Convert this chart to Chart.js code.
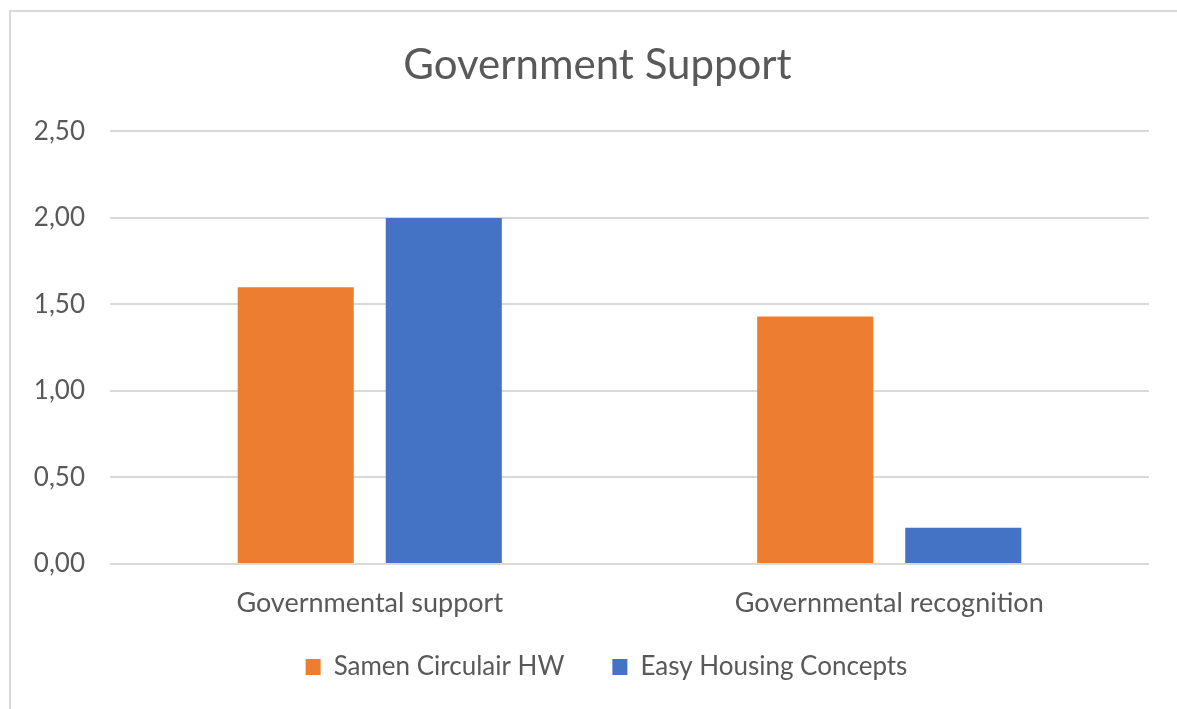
<!DOCTYPE html>
<html>
<head>
<meta charset="utf-8">
<script src="https://cdn.jsdelivr.net/npm/chart.js@4/dist/chart.umd.min.js"></script>
<style>
  html, body { margin: 0; padding: 0; background: #fff; overflow: hidden; }
  #wrap { position: absolute; left: 0; top: 0; width: 1177px; height: 709px; overflow: hidden; }
  #frame { position: absolute; left: 9px; top: 10px; width: 1200px; height: 740px; border: 2px solid #d9d9d9; }
  canvas { position: absolute; left: 0; top: 0; }
</style>
</head>
<body>
<div id="wrap">
  <div id="frame"></div>
  <canvas id="chart" width="1177" height="709"></canvas>
</div>
<script>
// Government Support - grouped bar chart

const categories = ['Governmental support', 'Governmental recognition'];
const samenCirculair = [1.60, 1.43];
const easyHousing = [2.00, 0.21];
const tickValues = [0, 0.5, 1, 1.5, 2, 2.5];

const textColor = '#595959';
const fontFamily = 'Lato, "Open Sans", sans-serif';

// the original centres title and legend on the whole frame, not on the plot;
// the legend also sits closer to the axis labels than its item gap allows
const boxShift = {
  id: 'boxShift',
  afterLayout(chart) {
    const lg = chart.legend;
    if (lg) {
      lg.left += 32;
      lg.right += 32;
      lg.top -= 19;
      lg.bottom -= 19;
    }
    const tt = chart.titleBlock;
    if (tt) {
      tt.left += 23;
      tt.right += 23;
    }
  },
};

const ctx = document.getElementById('chart').getContext('2d');
new Chart(ctx, {
  type: 'bar',
  data: {
    labels: categories,
    datasets: [
      {
        label: 'Samen Circulair HW',
        data: samenCirculair,
        backgroundColor: '#ED7D31',
        categoryPercentage: 0.57,
        barPercentage: 0.784,
      },
      {
        label: 'Easy Housing Concepts',
        data: easyHousing,
        backgroundColor: '#4472C4',
        categoryPercentage: 0.57,
        barPercentage: 0.784,
      },
    ],
  },
  plugins: [boxShift],
  options: {
    responsive: false,
    animation: false,
    layout: {
      padding: { left: 0, right: 28, top: 0, bottom: 0 },
    },
    plugins: {
      title: {
        display: true,
        text: 'Government Support',
        color: textColor,
        font: { family: fontFamily, size: 42, weight: 'normal' },
        padding: { top: 40, bottom: 41 },
      },
      legend: {
        display: true,
        position: 'bottom',
        labels: {
          color: textColor,
          font: { family: fontFamily, size: 26 },
          boxWidth: 15,
          boxHeight: 16,
          padding: 48,
        },
      },
      tooltip: { enabled: false },
    },
    scales: {
      x: {
        grid: { display: false },
        border: { display: false },
        ticks: {
          color: textColor,
          font: { family: fontFamily, size: 27 },
          padding: 15,
        },
        afterFit(scale) {
          scale.height = 61;
        },
      },
      y: {
        min: 0,
        max: 2.5,
        afterBuildTicks(scale) {
          scale.ticks = tickValues.map((v) => ({ value: v }));
        },
        grid: {
          color: '#d9d9d9',
          lineWidth: 2,
          drawTicks: false,
        },
        border: { display: false },
        ticks: {
          color: textColor,
          font: { family: fontFamily, size: 26 },
          padding: 25,
          callback: (v) => v.toFixed(2).replace('.', ','),
        },
        afterFit(scale) {
          scale.width = 110;
        },
      },
    },
  },
});
</script>
</body>
</html>
